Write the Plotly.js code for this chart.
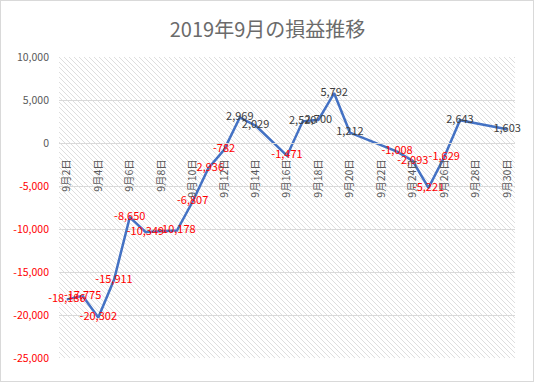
<!DOCTYPE html>
<html>
<head>
<meta charset="utf-8">
<script src="https://cdn.plot.ly/plotly-3.0.1.min.js"></script>
<style>
  html, body { margin: 0; padding: 0; background: #ffffff; }
  #wrap { position: relative; width: 535px; height: 382px; }
  #chart { width: 535px; height: 382px; }
  #frame { position: absolute; left: 0; top: 0; width: 534px; height: 382px; box-sizing: border-box; border: 1px solid #d9d9d9; pointer-events: none; }
</style>
</head>
<body>
<div id="wrap"><div id="chart"></div><div id="frame"></div></div>
<script>
// ---- data ----
const chartTitle = '2019年9月の損益推移';
const dates = ['2019-09-02','2019-09-03','2019-09-04','2019-09-05','2019-09-06','2019-09-07',
               '2019-09-09','2019-09-10','2019-09-11','2019-09-12','2019-09-13','2019-09-14',
               '2019-09-16','2019-09-17','2019-09-18','2019-09-19','2019-09-20',
               '2019-09-23','2019-09-24','2019-09-25','2019-09-26','2019-09-27','2019-09-30'];
const profit = [-18186, -17775, -20302, -15911, -8650, -10349,
                -10178, -6807, -2936, -782, 2969, 2029,
                -1471, 2520, 2700, 5792, 1212,
                -1008, -2093, -5221, -1629, 2643, 1603];
const xTickDates = ['2019-09-02','2019-09-04','2019-09-06','2019-09-08','2019-09-10','2019-09-12',
                    '2019-09-14','2019-09-16','2019-09-18','2019-09-20','2019-09-22','2019-09-24',
                    '2019-09-26','2019-09-28','2019-09-30'];
const xTickLabels = ['9月2日','9月4日','9月6日','9月8日','9月10日','9月12日','9月14日','9月16日',
                     '9月18日','9月20日','9月22日','9月24日','9月26日','9月28日','9月30日'];
const yTickVals = [10000, 5000, 0, -5000, -10000, -15000, -20000, -25000];

// ---- helpers ----
const FONT = '"Noto Sans CJK JP", "Noto Sans", sans-serif';
const fmt = v => (v < 0 ? '-' : '') + Math.abs(v).toLocaleString('en-US');
const yTickText = yTickVals.map(v => v < 0
  ? '<span style="color:#ff0000">' + fmt(v) + '</span>'
  : fmt(v));
const labelColors = profit.map(v => v < 0 ? '#ff0000' : '#404040');

const hatchSvg = "<svg xmlns='http://www.w3.org/2000/svg' width='456' height='301'>" +
  "<defs><pattern id='p' width='5' height='5' patternUnits='userSpaceOnUse'>" +
  "<path d='M-1,-1 L6,6 M-1,4 L1,6 M4,-1 L6,1' stroke='#d6d6d6' stroke-width='0.8' fill='none'/>" +
  "</pattern></defs><rect width='456' height='301' fill='url(#p)'/></svg>";

const trace = {
  type: 'scatter',
  mode: 'lines+text',
  x: dates,
  y: profit,
  line: { color: '#4472c4', width: 2.5 },
  text: profit.map(fmt),
  textposition: 'middle center',
  textfont: { family: FONT, size: 11, color: labelColors },
  hoverinfo: 'x+y',
  showlegend: false,
  cliponaxis: false
};

const layout = {
  width: 535,
  height: 382,
  margin: { l: 59, r: 20, t: 57, b: 24 },
  paper_bgcolor: '#ffffff',
  plot_bgcolor: 'rgba(0,0,0,0)',
  font: { family: FONT, color: '#595959' },
  title: {
    text: chartTitle,
    font: { family: FONT, size: 20, color: '#6b6b6b' },
    x: 0.5, xanchor: 'center',
    y: 1 - 30 / 382, yanchor: 'middle', yref: 'container'
  },
  xaxis: {
    type: 'date',
    range: ['2019-09-01 12:00', '2019-09-30 12:00'],
    tickmode: 'array',
    tickvals: xTickDates,
    ticktext: xTickLabels,
    tickangle: -90,
    tickfont: { family: FONT, size: 10.5, color: '#595959' },
    showgrid: false,
    zeroline: false,
    showline: true,
    linecolor: '#d9d9d9',
    linewidth: 1,
    ticks: '',
    ticklabelstandoff: 11,
    anchor: 'free',
    position: 25000 / 35000
  },
  yaxis: {
    range: [-25000, 10000],
    tickmode: 'array',
    tickvals: yTickVals,
    ticktext: yTickText,
    tickfont: { family: FONT, size: 10.5, color: '#595959' },
    showgrid: true,
    gridcolor: '#d9d9d9',
    gridwidth: 1,
    zeroline: false,
    showline: false,
    ticks: '',
    ticklabelstandoff: 9
  },
  images: [{
    source: 'data:image/svg+xml;charset=utf-8,' + encodeURIComponent(hatchSvg),
    xref: 'paper', yref: 'paper',
    x: 0, y: 1, sizex: 1, sizey: 1,
    xanchor: 'left', yanchor: 'top',
    sizing: 'stretch',
    layer: 'below'
  }]
};

Plotly.newPlot('chart', [trace], layout, { displayModeBar: false, staticPlot: true });
</script>
</body>
</html>
